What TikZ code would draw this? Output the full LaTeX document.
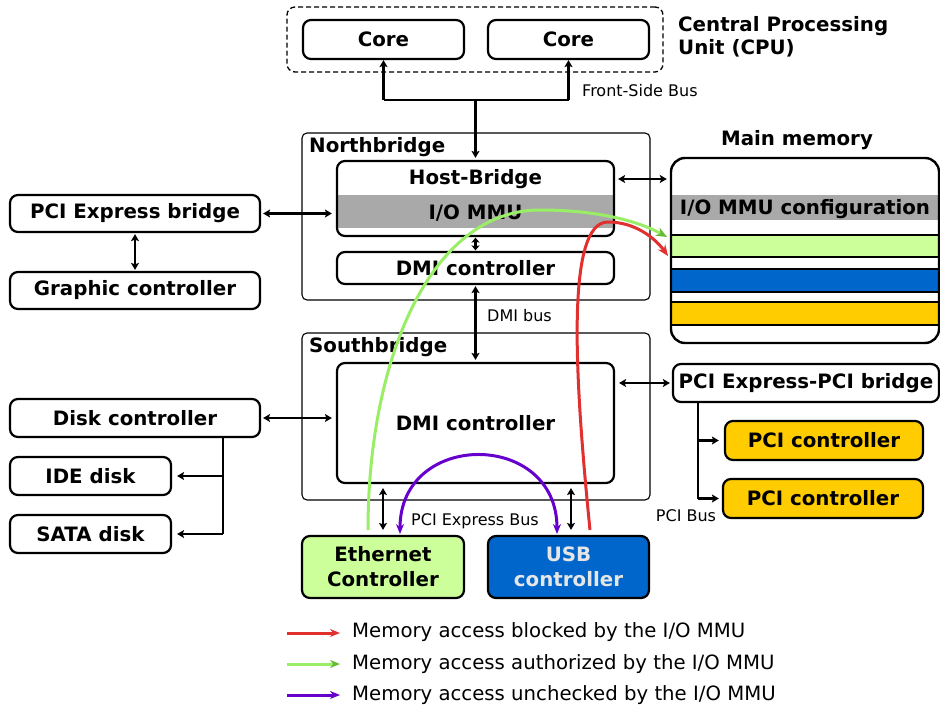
\documentclass[tikz,border=0pt]{standalone}
\usepackage{fontspec}
\setmainfont{DejaVu Sans}
\usetikzlibrary{arrows.meta,calc}
\definecolor{grayband}{HTML}{A9A9A9}
\definecolor{lgreen}{HTML}{CCFF99}
\definecolor{mblue}{HTML}{0066CC}
\definecolor{myellow}{HTML}{FFCC00}
\definecolor{cred}{HTML}{E03030}
\definecolor{cgreen}{HTML}{99EE66}
\definecolor{cgreenhead}{HTML}{66BB33}
\definecolor{cpurple}{HTML}{6600CC}
\definecolor{usbtext}{HTML}{E6E6E6}
\begin{document}
\begin{tikzpicture}[x=1pt,y=-1pt,
 box/.style={draw, line width=2.2pt, rounded corners=8pt, inner sep=0pt, font=\fontsize{19.8}{23}\selectfont\bfseries, align=center},
 cont/.style={draw, line width=1.1pt, rounded corners=5pt, inner sep=0pt},
 lbl/.style={font=\fontsize{19.8}{23}\selectfont\bfseries, inner sep=0pt},
 small/.style={font=\fontsize{16}{19}\selectfont, inner sep=0pt},
 legtext/.style={font=\fontsize{19.7}{22}\selectfont, inner sep=0pt, anchor=west},
 wire/.style={line width=2.6pt},
 arr/.style={line width=2.6pt, -{Stealth[length=7pt,width=8pt,inset=1.5pt]}},
 dbl/.style={line width=2.6pt, {Stealth[length=7pt,width=8pt,inset=1.5pt]}-{Stealth[length=7pt,width=8pt,inset=1.5pt]}},
 dblshort/.style={line width=2.6pt, {Stealth[length=5pt,width=8pt,inset=1pt]}-{Stealth[length=5pt,width=8pt,inset=1pt]}},
 flow/.style={line width=3pt},
]
\useasboundingbox (0,0) rectangle (940,709);

% CPU
\node[cont, line width=1.3pt, dash pattern=on 5pt off 3pt, rounded corners=8pt, minimum width=376pt, minimum height=65pt] (cpu) at (475,39.5) {};
\node[box, minimum width=161pt, minimum height=39pt] (core1) at (383.5,39.5) {Core};
\node[box, minimum width=161pt, minimum height=39pt] (core2) at (568.5,39.5) {Core};
\node[lbl, anchor=west, align=left] (cpulbl) at (678,36.5) {Central Processing\\Unit (CPU)};

% Northbridge
\node[cont, minimum width=348pt, minimum height=167pt] (north) at (476,216.5) {};
\node[lbl, anchor=west] (northlbl) at (309,147) {Northbridge};
\fill[grayband] (337,195) rectangle (614,228);
\node[box, minimum width=277pt, minimum height=75pt] (hb) at (475.5,198.5) {};
\node[lbl] (hblbl) at (475.5,179) {Host-Bridge};
\node[lbl] (iommu) at (475.5,213) {I/O MMU};
\node[box, minimum width=277pt, minimum height=32pt] (ndmi) at (475.5,268) {DMI controller};

% Southbridge
\node[cont, minimum width=348pt, minimum height=167pt] (south) at (476,416.5) {};
\node[lbl, anchor=west] (southlbl) at (309,347) {Southbridge};
\node[box, minimum width=277pt, minimum height=120pt] (sdmi) at (475.5,423) {DMI controller};

% Devices below
\node[box, fill=lgreen, minimum width=162pt, minimum height=62pt] (eth) at (383,567) {Ethernet\\[2pt]Controller};
\node[box, fill=mblue, text=usbtext, minimum width=161pt, minimum height=62pt] (usb) at (568.5,567) {USB\\[2pt]controller};

% Left side
\node[box, minimum width=250pt, minimum height=37pt] (pcie) at (135,213.5) {PCI Express bridge};
\node[box, minimum width=250pt, minimum height=37pt] (gfx) at (135,290.5) {Graphic controller};
\node[box, minimum width=250pt, minimum height=38pt] (disk) at (135,418) {Disk controller};
\node[box, minimum width=161pt, minimum height=38pt] (ide) at (90.5,476) {IDE disk};
\node[box, minimum width=161pt, minimum height=38pt] (sata) at (90.5,534) {SATA disk};

% Main memory
\node[lbl] (memlbl) at (797,140) {Main memory};
\fill[grayband] (671,195) rectangle (939,220);
\draw[fill=lgreen, line width=1.5pt] (671,235) rectangle (939,257);
\draw[fill=mblue, line width=1.5pt] (671,269) rectangle (939,292);
\draw[fill=myellow, line width=1.5pt] (671,302) rectangle (939,325);
\node[box, rounded corners=14pt, line width=2.4pt, minimum width=268pt, minimum height=185pt] (mem) at (805,250.5) {};
\node[lbl] (memcfg) at (805,209) {I/O MMU configuration};

% Right side
\node[box, minimum width=266pt, minimum height=38pt] (bridge) at (806,383) {PCI Express-PCI bridge};
\node[box, fill=myellow, minimum width=198pt, minimum height=39pt] (pci1) at (824,440.5) {PCI controller};
\node[box, fill=myellow, minimum width=200pt, minimum height=39pt] (pci2) at (823,498.5) {PCI controller};

% Front-side bus
\coordinate (fsb) at (477,100);
\draw[wire] (core1.south |- fsb) -- (core2.south |- fsb);
\draw[arr] (core1.south |- fsb) -- (core1.south);
\draw[arr] (core2.south |- fsb) -- (core2.south);
\draw[arr] (hb.north |- fsb) -- ([yshift=2pt]hb.north);
\node[small, anchor=west] (fsblbl) at (582,91) {Front-Side Bus};

% North connections
\draw[dbl, shorten <=3pt, shorten >=3pt] ([yshift=19.5pt]hb.east) -- ([yshift=19.5pt]hb.east -| mem.west);
\draw[dbl, shorten <=2pt, shorten >=4pt] (pcie.east) -- (pcie.east -| hb.west);
\draw[dblshort, shorten <=0.5pt, shorten >=0.5pt] (hb.south) -- (ndmi.north);
\draw[dbl, shorten <=1pt, shorten >=1pt] (pcie.south) -- (gfx.south |- gfx.north);

% DMI bus
\draw[dbl, shorten <=1pt, shorten >=2pt] (ndmi.south) -- (sdmi.north);
\node[small, anchor=west] (dmilbl) at (487,316) {DMI bus};

% South connections
\draw[dbl, shorten <=2pt, shorten >=4pt] (disk.east) -- (disk.east -| sdmi.west);
\draw[dbl, shorten <=4pt, shorten >=2pt] (bridge.west -| sdmi.east) -- (bridge.west);
\draw[dbl, shorten <=4pt, shorten >=5pt] (sdmi.south -| eth.north) -- (eth.north);
\draw[dbl, shorten <=4pt, shorten >=5pt] ([xshift=2.5pt]sdmi.south -| usb.north) -- ([xshift=2.5pt]usb.north);
\node[small] (pcielbl) at (475,521) {PCI Express Bus};

% Disk tree
\coordinate (dt) at (223,0);
\draw[wire] (disk.south -| dt) -- (sata.east -| dt);
\draw[arr, shorten >=5pt] (ide.east -| dt) -- (ide.east);
\draw[arr, shorten >=5pt] (sata.east -| dt) -- (sata.east);

% PCI tree
\coordinate (pt) at (698,0);
\draw[wire] (bridge.south -| pt) -- (pci2.west -| pt);
\draw[arr, shorten >=5pt] (pci1.west -| pt) -- (pci1.west);
\draw[arr, shorten >=3pt] (pci2.west -| pt) -- (pci2.west);
\node[small] (pcibuslbl) at (686,516) {PCI Bus};

% Flows
\draw[flow, cpurple, {Stealth[length=10pt,width=8pt]}-{Stealth[length=10pt,width=8pt]}] (400,534) .. controls (400,430) and (557,430) .. (557,534);
\draw[flow, cgreen, -{Stealth[length=11pt,width=9pt,color=cgreenhead]}] (368,530) .. controls (368,360) and (430,210) .. (540,210) .. controls (600,210) and (640,222) .. (667,237);
\draw[flow, cred, -{Stealth[length=11pt,width=9pt]}] (590,530) .. controls (575,380) and (565,222) .. (608,222) .. controls (635,222) and (655,238) .. (668,256);

% Legend
\coordinate (l1) at (287,633);
\coordinate (l2) at (287,664);
\coordinate (l3) at (287,695);
\draw[flow, cred, -{Stealth[length=10pt,width=8pt]}] (l1) -- ++(53,0);
\draw[flow, cgreen, -{Stealth[length=10pt,width=8pt,color=cgreenhead]}] (l2) -- ++(53,0);
\draw[flow, cpurple, -{Stealth[length=10pt,width=8pt]}] (l3) -- ++(53,0);
\node[legtext] (t1) at (352,632) {Memory access blocked by the I/O MMU};
\node[legtext] (t2) at (352,664) {Memory access authorized by the I/O MMU};
\node[legtext] (t3) at (352,695) {Memory access unchecked by the I/O MMU};
\end{tikzpicture}
\end{document}
